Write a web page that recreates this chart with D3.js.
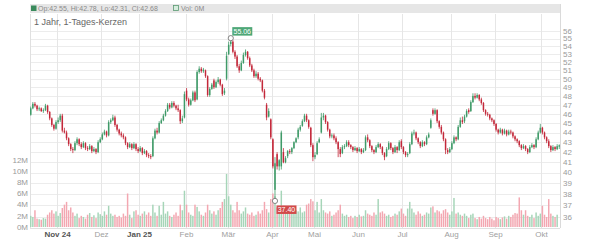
<!DOCTYPE html>
<html><head><meta charset="utf-8">
<script src="https://cdn.jsdelivr.net/npm/d3@7"></script>
<style>body{margin:0;background:#fff;}svg{display:block;font-family:"Liberation Sans",Arial,sans-serif;}</style>
</head><body><svg id="c" width="600" height="240"></svg>
<script>
const opens=[45.9,46.6,47.1,46.9,46.5,46.6,46.3,46.4,46.9,46.2,
45.5,44.8,44.4,45.1,45.3,45.8,44.2,44.0,43.4,42.8,
42.3,42.2,42.9,43.3,42.8,42.5,42.9,42.4,42.3,42.6,
42.1,42.3,42.0,43.0,43.3,43.8,44.1,43.7,45.1,45.3,
45.6,44.8,44.3,43.9,43.7,43.5,42.9,42.5,42.8,42.4,
42.8,42.3,42.1,42.4,41.9,42.1,41.7,41.6,41.6,43.4,
44.2,44.0,45.0,45.3,45.8,46.3,47.0,46.7,47.2,46.9,
46.6,46.4,45.2,45.6,48.6,47.6,47.0,47.5,48.4,47.6,
50.8,51.2,50.9,51.0,50.3,48.1,48.8,49.8,49.0,49.6,
49.9,49.3,48.3,50.0,53.0,54.3,54.6,53.3,52.7,51.5,
51.0,51.9,52.9,53.3,52.5,51.6,51.0,50.3,50.6,50.0,
49.8,48.6,47.0,45.7,45.4,43.3,38.4,41.8,40.6,40.6,
42.0,41.0,41.6,42.1,42.0,42.4,43.0,43.5,44.3,44.7,
45.2,45.8,45.3,44.5,42.7,41.5,41.8,43.0,44.0,45.6,
45.8,45.1,44.3,43.6,43.7,43.4,43.0,42.3,41.9,42.5,
42.6,43.0,42.7,42.5,42.2,42.4,42.1,42.3,42.0,42.2,
43.5,43.2,42.6,42.2,42.0,42.5,42.8,42.5,41.9,41.6,
42.3,42.9,42.4,42.0,42.5,42.2,43.1,42.5,42.0,41.7,
41.9,42.8,43.9,44.0,43.4,43.0,42.6,43.0,42.8,43.5,
44.5,46.4,46.0,46.4,45.2,44.6,44.0,43.3,42.2,42.0,
42.3,42.9,43.5,43.3,44.6,45.3,45.2,45.7,46.4,46.3,
47.3,48.0,47.8,48.1,47.6,47.2,46.4,46.0,45.9,45.5,
45.3,44.9,44.3,44.0,44.3,43.9,44.2,43.8,44.1,44.0,
43.6,43.3,43.1,42.7,42.4,42.6,42.3,42.0,42.5,42.7,
42.5,43.3,44.0,44.5,44.0,43.5,43.1,42.6,42.2,42.5,
42.3,42.55];
const highs=[46.8,47.3,47.3,47.0,46.8,46.7,46.6,47.1,47.0,46.3,
45.6,44.9,45.3,45.6,46.0,46.0,44.5,44.2,43.5,42.9,
42.5,43.1,43.5,43.4,43.0,43.1,43.0,42.6,42.8,42.7,
42.5,42.4,43.2,43.5,44.0,44.3,44.2,45.3,45.5,45.9,
45.8,44.9,44.4,44.1,43.9,43.6,43.0,43.0,42.9,43.0,
42.9,42.5,42.6,42.5,42.3,42.2,41.9,41.8,43.6,44.4,
44.5,45.2,45.5,46.0,46.5,47.2,47.2,47.4,47.4,47.0,
47.0,46.5,45.8,48.5,48.9,47.8,47.7,48.6,48.6,51.0,
51.5,51.4,51.3,51.1,50.4,49.0,49.5,50.0,49.8,50.2,
50.0,49.4,48.9,53.3,54.6,55.06,54.8,53.5,52.9,51.8,
52.2,53.2,53.6,53.4,52.7,51.8,51.2,50.9,50.8,50.2,
49.9,48.8,47.2,46.6,45.5,43.4,41.5,42.0,41.3,44.2,
42.4,41.6,42.2,42.3,42.5,43.1,43.5,44.5,44.8,45.4,
46.0,46.0,45.4,44.6,42.9,42.0,43.1,43.5,46.1,46.1,
45.9,45.2,44.4,43.9,43.9,43.6,43.1,42.5,42.7,42.8,
43.2,43.2,42.8,42.6,42.6,42.5,42.5,42.4,42.4,43.7,
43.8,43.3,42.7,42.3,42.7,43.0,42.9,42.6,42.0,42.5,
43.1,43.0,42.5,42.7,42.6,43.2,43.3,42.6,42.1,42.0,
43.0,44.1,44.3,44.1,43.5,43.1,43.2,43.1,43.7,44.0,
45.5,46.6,46.6,46.5,45.3,44.8,44.1,43.4,42.4,42.5,
43.1,43.7,43.6,44.8,45.6,45.7,45.9,46.5,46.6,47.5,
48.3,48.3,48.3,48.2,47.8,47.3,46.5,46.2,46.0,45.6,
45.4,45.0,44.4,44.5,44.4,44.4,44.3,44.3,44.3,44.1,
43.7,43.4,43.2,42.8,42.8,42.7,42.4,42.7,42.9,42.8,
43.5,44.2,44.9,44.6,44.1,43.6,43.3,42.7,42.7,42.6,
42.8,42.78];
const lows=[45.8,46.5,46.7,46.3,46.3,46.2,46.1,46.3,46.0,45.3,
44.6,44.2,44.3,44.9,45.1,44.0,43.9,43.2,42.6,42.1,
41.9,42.1,42.7,42.6,42.3,42.4,42.2,42.1,42.2,41.9,
42.0,41.8,41.9,42.9,43.2,43.7,43.5,43.6,44.9,45.2,
44.6,44.1,43.7,43.5,43.3,42.7,42.3,42.4,42.2,42.3,
42.1,41.9,42.0,41.7,41.8,41.5,41.4,41.3,41.5,43.3,
43.8,43.9,44.9,45.2,45.7,46.2,46.5,46.6,46.7,46.4,
46.2,44.9,45.0,45.5,47.4,46.8,46.9,47.4,47.3,47.5,
50.6,50.7,50.7,50.1,47.9,47.9,48.7,48.8,48.9,49.4,
49.1,48.0,48.1,49.8,52.9,54.0,53.1,52.4,51.3,50.7,
50.9,51.8,52.7,52.3,51.4,50.8,50.1,50.1,49.8,49.6,
48.4,47.6,45.3,45.6,43.3,40.4,37.4,40.3,40.2,40.3,
40.9,40.9,41.4,41.8,41.8,42.3,42.9,43.3,44.1,44.6,
45.1,45.1,44.4,42.5,41.1,41.3,41.7,42.9,43.9,45.3,
44.9,44.1,43.4,43.4,43.2,42.8,41.5,41.5,41.8,42.3,
42.5,42.5,42.3,42.0,42.1,41.9,42.0,41.8,41.9,42.1,
43.0,42.4,42.0,41.8,41.9,42.4,42.3,41.7,41.2,41.5,
42.2,42.2,41.8,41.9,41.9,42.1,42.3,41.8,41.5,41.5,
41.8,42.7,43.7,43.2,42.8,42.4,42.5,42.6,42.7,43.4,
44.4,45.8,45.9,45.0,44.4,43.8,43.1,41.8,41.8,41.9,
42.2,42.8,43.1,43.2,44.5,44.9,45.0,45.6,46.0,46.2,
47.2,47.6,47.7,47.4,47.0,46.2,45.8,45.7,45.3,45.1,
44.7,44.1,43.8,43.9,43.7,43.8,43.6,43.7,43.8,43.4,
43.1,42.9,42.5,42.2,42.3,42.1,41.8,41.9,42.4,42.3,
42.4,43.2,43.9,43.8,43.3,42.9,42.4,42.0,42.1,42.1,
42.2,42.31];
const closes=[46.6,47.1,46.9,46.5,46.6,46.3,46.4,46.9,46.2,45.5,
44.8,44.4,45.1,45.3,45.8,44.2,44.0,43.4,42.8,42.3,
42.2,42.9,43.3,42.8,42.5,42.9,42.4,42.3,42.6,42.1,
42.3,42.0,43.0,43.3,43.8,44.1,43.7,45.1,45.3,45.6,
44.8,44.3,43.9,43.7,43.5,42.9,42.5,42.8,42.4,42.8,
42.3,42.1,42.4,41.9,42.1,41.7,41.6,41.5,43.4,44.2,
44.0,45.0,45.3,45.8,46.3,47.0,46.7,47.2,46.9,46.6,
46.4,45.2,45.5,48.2,47.6,47.0,47.5,48.4,47.5,50.8,
51.2,50.9,51.1,50.3,48.1,48.8,49.3,49.0,49.6,49.9,
49.3,48.2,48.6,52.8,54.2,54.6,53.3,52.7,51.5,51.0,
51.9,52.9,53.3,52.5,51.6,51.0,50.3,50.6,50.0,49.8,
48.6,47.8,45.6,46.3,43.5,40.6,40.9,40.6,41.2,44.0,
41.0,41.4,42.1,42.0,42.4,43.0,43.4,44.3,44.6,45.2,
45.8,45.3,44.6,42.7,41.5,41.7,42.9,43.3,45.6,45.8,
45.1,44.3,43.6,43.7,43.4,43.0,42.3,41.8,42.5,42.6,
43.0,42.7,42.5,42.2,42.4,42.1,42.3,42.0,42.2,43.5,
43.2,42.6,42.2,42.0,42.5,42.8,42.5,41.9,41.5,42.3,
42.9,42.4,42.0,42.5,42.2,43.0,42.5,42.0,41.7,41.8,
42.8,43.9,44.0,43.4,43.0,42.6,43.0,42.8,43.5,43.8,
45.3,46.0,46.4,45.2,44.6,44.0,43.3,42.2,42.0,42.3,
42.9,43.5,43.3,44.6,45.3,45.1,45.7,46.3,46.2,47.3,
48.0,47.8,48.1,47.6,47.2,46.4,46.0,45.9,45.5,45.3,
44.9,44.3,44.0,44.3,43.9,44.2,43.8,44.1,44.0,43.6,
43.3,43.1,42.7,42.4,42.6,42.3,42.0,42.5,42.7,42.5,
43.3,44.0,44.5,44.0,43.5,43.1,42.6,42.2,42.5,42.3,
42.6,42.68];
const volumes=[2.0,1.8,3.0,1.5,1.4,1.3,1.6,1.5,2.2,2.6,
3.0,2.4,2.8,2.0,2.5,3.4,4.0,4.5,3.0,3.5,
2.6,2.0,2.4,1.6,2.0,1.8,1.5,2.2,2.5,1.8,
2.1,1.6,2.6,2.3,2.0,2.8,2.2,3.8,2.4,2.0,
2.2,1.8,2.0,1.7,2.4,2.0,6.0,2.2,1.6,2.8,
3.0,2.2,2.0,2.4,2.8,2.2,2.6,2.0,4.0,2.6,
2.0,3.8,2.2,4.5,2.4,2.8,2.0,1.8,2.2,2.6,
2.0,4.0,3.0,6.5,4.0,2.6,2.2,2.0,4.0,3.6,
2.8,2.2,2.0,2.6,4.0,3.0,2.4,2.8,2.2,3.0,
3.4,4.5,5.0,9.5,5.5,4.0,3.0,2.6,4.5,3.0,
2.4,2.8,3.5,2.4,2.2,2.6,2.0,2.2,2.8,2.4,
3.0,4.5,3.2,2.6,5.0,6.0,5.5,3.5,3.0,6.5,
3.8,3.0,3.4,2.8,3.0,3.6,3.0,2.8,3.5,2.6,
2.8,4.0,4.2,5.0,4.6,3.0,4.5,2.6,5.0,3.0,
2.6,2.4,2.8,2.0,2.2,2.6,3.0,4.0,2.4,2.0,
2.2,1.8,2.0,1.6,2.0,1.8,2.2,1.9,2.0,3.0,
2.4,2.2,2.0,2.6,2.2,5.0,2.6,2.8,2.4,2.0,
2.2,1.8,2.0,2.4,2.2,2.8,3.3,2.4,2.0,3.3,
4.5,3.3,2.6,2.2,2.8,2.4,2.0,2.2,2.6,2.4,
3.5,3.7,2.6,3.0,2.8,2.4,3.0,3.2,2.6,2.2,
2.8,5.2,2.4,2.6,2.2,2.0,2.4,2.0,1.6,2.2,
2.4,1.6,1.4,1.8,1.5,2.0,1.6,1.4,1.8,1.5,
1.2,1.8,1.6,1.4,1.7,1.9,1.5,2.0,1.8,2.2,
2.5,2.4,5.3,3.0,2.2,3.0,2.0,1.8,2.2,1.6,
2.6,2.0,2.4,3.8,2.2,1.8,5.0,2.4,2.0,1.8,
2.2,0];
const priceTicks=[36,37,38,39,40,41,42,43,44,45,46,47,48,49,50,51,52,53,54,55,56];
const volTicks=[0,2,4,6,8,10,12];
const monthIdx=[13,34,52,74,94,115,135,156,177,200,221,243];
const monthLabels=["Nov 24","Dez","Jan 25","Feb","Mär","Apr","Mai","Jun","Jul","Aug","Sep","Okt"];
const yearMonths=["Nov 24","Jan 25"];
const headerText="Op:42.55, Hi:42.78, Lo:42.31, Cl:42.68";
const volText="Vol: 0M";
const title="1 Jahr, 1-Tages-Kerzen";

const svg=d3.select("#c");
const L=30,R=560,T=14,B=228;
const n=closes.length;
const x=d3.scaleBand().domain(d3.range(n)).range([L,R]).paddingInner(0.3);
const cx=i=>x(i)+x.bandwidth()/2;
const y=d3.scaleLog().domain([36,56]).range([217,31]);
const v=d3.scaleLinear().domain([0,12]).range([227,160]);
const GREEN="#3f9a68",RED="#c3283a",VG="#a6d5b8",VR="#f3a7b1";

// header bar
svg.append("rect").attr("x",L).attr("y",4).attr("width",R-L).attr("height",9).attr("fill","#e6e6e6");
svg.append("rect").attr("x",31).attr("y",5.5).attr("width",5.5).attr("height",5.5).attr("fill","#3a8a5c");
svg.append("text").attr("x",38).attr("y",11.3).attr("font-size",7).attr("fill","#8a8a8a").text(headerText);
svg.append("rect").attr("x",173.5).attr("y",5.5).attr("width",5).attr("height",5).attr("fill","#d6ecdd").attr("stroke","#5a9a72").attr("stroke-width",0.8);
svg.append("text").attr("x",181).attr("y",11.3).attr("font-size",7).attr("fill","#8a8a8a").text(volText);

// grid
const g=svg.append("g").attr("shape-rendering","crispEdges");
g.selectAll(".hg").data(priceTicks).join("line").attr("x1",L).attr("x2",R)
 .attr("y1",d=>Math.round(y(d))+0.5).attr("y2",d=>Math.round(y(d))+0.5).attr("stroke","#ececec");
const mx=i=>Math.round(cx(i)-x.step()/2)+0.5;
g.selectAll(".vg").data(monthIdx).join("line").attr("x1",mx).attr("x2",mx)
 .attr("y1",T).attr("y2",B).attr("stroke","#e6e6e6");
g.append("line").attr("x1",L+0.5).attr("x2",L+0.5).attr("y1",T).attr("y2",B).attr("stroke","#e0e0e0");
g.append("line").attr("x1",R+0.5).attr("x2",R+0.5).attr("y1",4).attr("y2",B).attr("stroke","#dadada");
g.append("line").attr("x1",L).attr("x2",R).attr("y1",B+0.5).attr("y2",B+0.5).attr("stroke","#e0e0e0");

// title
svg.append("text").attr("x",34).attr("y",24.5).attr("font-size",9).attr("fill","#666").text(title);

// volume bars
const idx=d3.range(n);
svg.append("g").selectAll("rect").data(idx).join("rect")
 .attr("x",i=>x(i)).attr("width",x.bandwidth())
 .attr("y",i=>v(volumes[i])).attr("height",i=>v(0)-v(volumes[i]))
 .attr("fill",i=>closes[i]>=opens[i]?VG:VR);

// candles
const cg=svg.append("g");
cg.selectAll("line").data(idx).join("line")
 .attr("x1",cx).attr("x2",cx).attr("y1",i=>y(highs[i])).attr("y2",i=>y(lows[i]))
 .attr("stroke",i=>closes[i]>=opens[i]?GREEN:RED).attr("stroke-width",0.8);
cg.selectAll("rect").data(idx).join("rect")
 .attr("x",i=>x(i)).attr("width",x.bandwidth())
 .attr("y",i=>y(Math.max(opens[i],closes[i])))
 .attr("height",i=>Math.max(0.8,Math.abs(y(opens[i])-y(closes[i]))))
 .attr("fill",i=>closes[i]>=opens[i]?GREEN:RED);

// axes labels
svg.append("g").selectAll("text").data(priceTicks).join("text")
 .attr("x",563).attr("y",d=>y(d)+2.8).attr("font-size",8).attr("fill","#9a9a9a").text(d=>d);
svg.append("g").selectAll("text").data(volTicks).join("text")
 .attr("x",28).attr("y",d=>v(d)+2.8).attr("font-size",8).attr("fill","#9a9a9a").attr("text-anchor","end").text(d=>d+"M");
svg.append("g").selectAll("text").data(monthIdx).join("text")
 .attr("x",i=>mx(i)).attr("y",237).attr("font-size",8).attr("text-anchor","middle")
 .attr("fill",(d,k)=>yearMonths.includes(monthLabels[k])?"#555":"#a0a0a0")
 .attr("font-weight",(d,k)=>yearMonths.includes(monthLabels[k])?"bold":"normal")
 .text((d,k)=>monthLabels[k]);

// high / low markers
const hi=d3.maxIndex(highs), lo=d3.minIndex(lows);
function marker(i,val,color,dy,txt){
  const px=cx(i),py=y(val);
  svg.append("circle").attr("cx",px).attr("cy",py).attr("r",2.6).attr("fill","#fff").attr("stroke","#777").attr("stroke-width",0.9);
  const by=dy<0?py-11:py+4.5;
  svg.append("rect").attr("x",px+1.5).attr("y",by).attr("width",20).attr("height",8.5).attr("fill",color);
  svg.append("text").attr("x",px+11.5).attr("y",by+6.6).attr("font-size",7).attr("fill","#fff").attr("text-anchor","middle").text(txt);
}
marker(hi,highs[hi],"#4ea777",-1,d3.format(".2f")(highs[hi]));
marker(lo,lows[lo],"#d24a4a",1,d3.format(".2f")(lows[lo]));
</script></body></html>
